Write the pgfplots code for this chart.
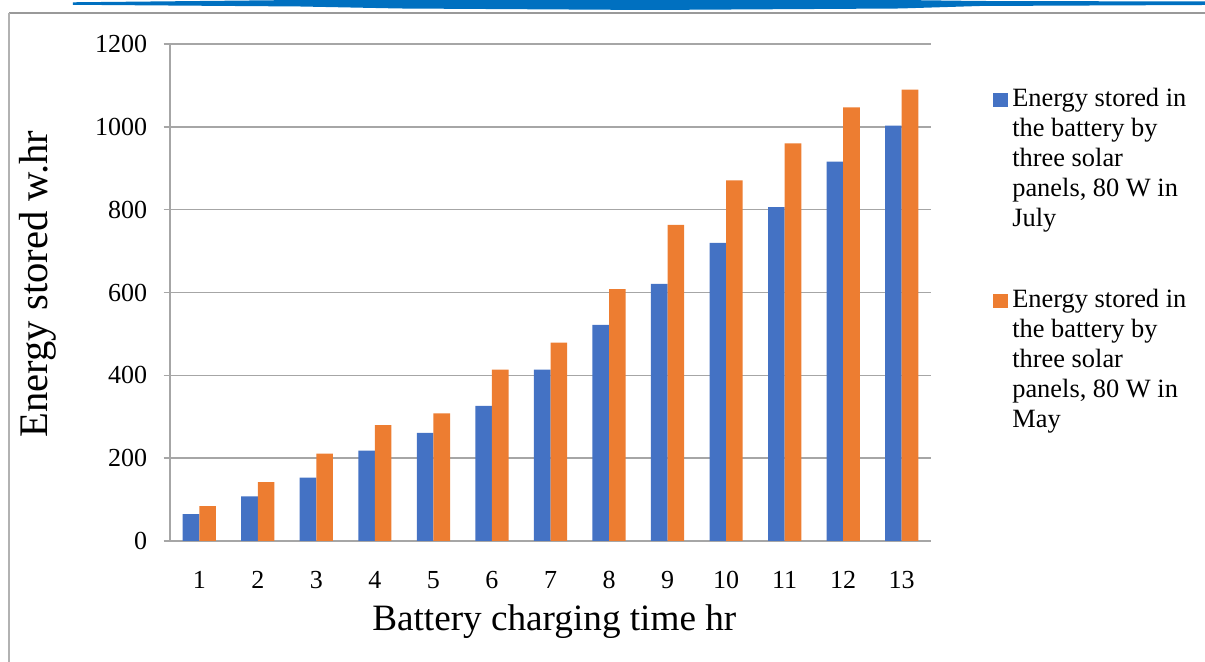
\documentclass[border=0pt]{standalone}
\usepackage{pgfplots}
\pgfplotsset{compat=1.18}
\usepackage{fontspec}
\setmainfont{Liberation Serif}
\definecolor{barblue}{HTML}{4472C4}
\definecolor{barorange}{HTML}{ED7D31}
\definecolor{gridgray}{HTML}{A6A6A6}
\definecolor{hdrblue}{HTML}{0070C0}
\newcommand{\legtext}[1]{\parbox[t]{95pt}{\raggedright\fontsize{13.2}{15}\selectfont\strut #1\strut}}
\begin{document}
\begin{tikzpicture}
\path[use as bounding box] (-85pt,-60.5pt) rectangle (517.5pt,270.5pt);
% slide decorations (pixel coordinates)
\begin{scope}[x=0.5pt,y=-0.5pt,shift={(-85pt,270.5pt)}]
\fill[hdrblue] (73,2.3) -- (300,0) -- (400,0) -- (900,0) -- (980,1) -- (1205,1.5) -- (1205,5) -- (980,6) -- (900,8.5) -- (650,10) -- (400,8.5) -- (300,6.5) -- (73,4.8) -- cycle;
\draw[gray!80, line width=0.8pt] (9,13.3) -- (1205,13.3);
\draw[gray!60, line width=0.6pt] (9,13.3) -- (9,662);
\end{scope}
\begin{axis}[
  scale only axis,
  width=380.5pt, height=248.5pt,
  ybar=0pt, bar width=8.3pt,
  xmin=0.5, xmax=13.5, ymin=0, ymax=1200,
  enlargelimits=false,
  xtick={1,...,13},
  ytick={0,200,...,1200},
  ymajorgrids,
  grid style={gridgray, line width=0.7pt},
  axis x line*=bottom, axis y line*=left,
  axis line style={gridgray, line width=0.7pt, -},
  tick align=outside,
  major tick length=3.2pt,
  xtick style={draw=none},
  ytick style={gridgray, line width=0.7pt},
  /pgf/number format/assume math mode=true,
  /pgf/number format/1000 sep={},
  tick label style={font=\fontsize{13}{15}\selectfont, black},
  yticklabel style={anchor=east, inner sep=0pt, xshift=-8pt},
  xticklabel style={anchor=base, inner sep=0pt, yshift=-20.8pt},
  xlabel={Battery charging time hr},
  ylabel={Energy stored w.hr},
  xlabel style={font=\fontsize{18.6}{22}\selectfont, at={(axis description cs:0.505,-0.162)}, anchor=center},
  ylabel style={font=\fontsize{20.3}{24}\selectfont, at={(axis description cs:-0.1735,0.517)}, anchor=center, rotate=0},
  legend image code/.code={\fill[#1,draw=none] (0pt,0pt) rectangle (7.5pt,7pt);},
  legend cell align=left,
  legend style={draw=none, fill=none, inner sep=0pt, outer sep=0pt,
    at={(1.0811,0.9161)}, anchor=north west, row sep=88.5pt,
    nodes={inner sep=0pt, outer sep=0pt},
    cells={anchor=base west},
    /tikz/every odd column/.append style={column sep=2.3pt}},
]
\addplot[fill=barblue, draw=none] coordinates {
(1,65) (2,108) (3,153) (4,218) (5,261) (6,326) (7,414) (8,522) (9,621) (10,720) (11,806) (12,916) (13,1003)};
\addlegendentry{\legtext{Energy stored in\\the battery by\\three solar\\panels, 80 W in\\July}}
\addplot[fill=barorange, draw=none] coordinates {
(1,84) (2,142) (3,211) (4,280) (5,308) (6,414) (7,479) (8,608) (9,763) (10,871) (11,960) (12,1047) (13,1090)};
\addlegendentry{\legtext{Energy stored in\\the battery by\\three solar\\panels, 80 W in\\May}}
\end{axis}
\end{tikzpicture}
\end{document}
